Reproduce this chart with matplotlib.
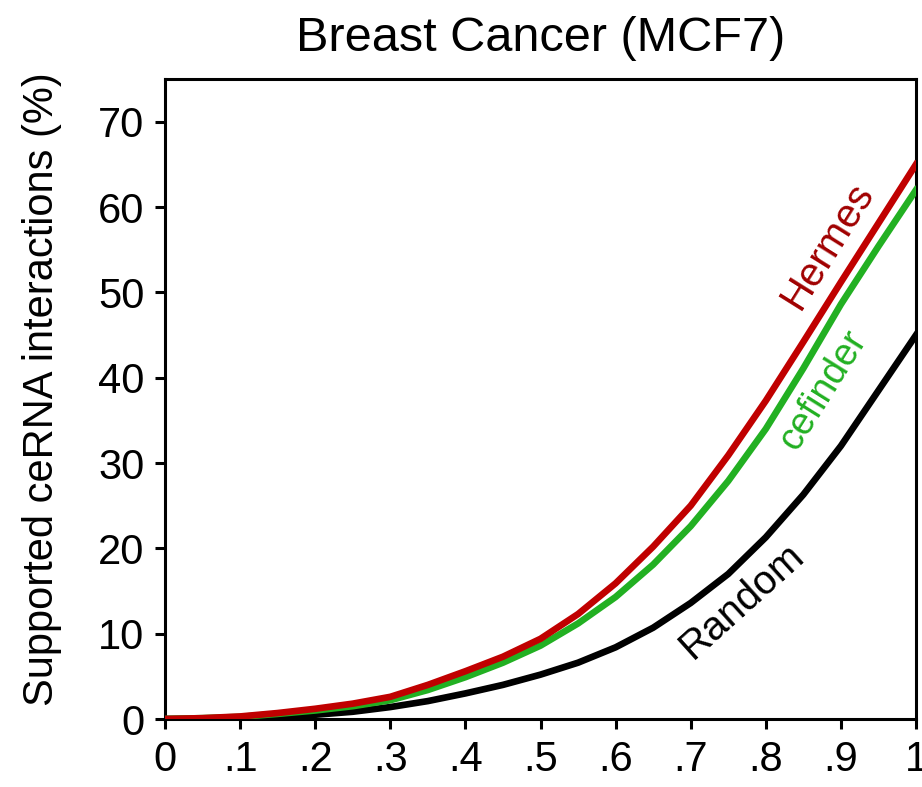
import numpy as np
import matplotlib
matplotlib.use("Agg")
import matplotlib.pyplot as plt

plt.rcParams['font.family'] = ['Liberation Sans', 'DejaVu Sans']

# fraction of ranked interactions (x) vs supported ceRNA interactions (%)
frac = [0, .05, .1, .15, .2, .25, .3, .35, .4, .45, .5,
        .55, .6, .65, .7, .75, .8, .85, .9, .95, 1.0]
hermes = [0, 0.1, 0.3, 0.7, 1.2, 1.8, 2.6, 4.0, 5.6, 7.3, 9.4,
          12.3, 15.9, 20.2, 25.0, 30.9, 37.3, 44.2, 51.2, 58.1, 65.0]
cefinder = [0, 0.1, 0.25, 0.6, 1.0, 1.5, 2.2, 3.4, 4.9, 6.6, 8.6,
            11.2, 14.3, 18.1, 22.6, 27.9, 34.0, 41.1, 48.6, 55.4, 62.0]
random_ = [0, 0.02, 0.1, 0.25, 0.5, 0.85, 1.4, 2.1, 3.0, 4.0, 5.2,
           6.6, 8.4, 10.7, 13.6, 17.0, 21.3, 26.3, 32.0, 38.5, 45.0]

xticks = [0, .1, .2, .3, .4, .5, .6, .7, .8, .9, 1]
xticklabels = ['0', '.1', '.2', '.3', '.4', '.5', '.6', '.7', '.8', '.9', '1']
yticks = [0, 10, 20, 30, 40, 50, 60, 70]

fig = plt.figure(figsize=(9.22, 7.87), dpi=100)
ax = fig.add_axes([0.179, 0.0864, 0.8145, 0.8132])

ax.plot(frac, random_, color='black', lw=4.8, solid_joinstyle='round', zorder=3)
ax.plot(frac, cefinder, color='#22B022', lw=4.8, solid_joinstyle='round', zorder=4)
ax.plot(frac, hermes, color='#C00000', lw=4.8, solid_joinstyle='round', zorder=5)

ax.text(0.883, 55.5, 'Hermes', color='#A00000', fontsize=29, rotation=58,
        ha='center', va='center', rotation_mode='anchor')
ax.text(0.877, 38.5, 'cefinder', color='#22B022', fontsize=27, rotation=58,
        ha='center', va='center', rotation_mode='anchor')
ax.text(0.768, 13.8, 'Random', color='black', fontsize=29, rotation=42,
        ha='center', va='center', rotation_mode='anchor')

ax.set_xlim(0, 1)
ax.set_ylim(0, 75)
ax.set_xticks(xticks)
ax.set_xticklabels(xticklabels)
ax.set_yticks(yticks)
ax.tick_params(axis='both', direction='out', length=7, width=2.2, labelsize=30, pad=8)
for s in ax.spines.values():
    s.set_linewidth(2.2)

ax.set_ylabel('Supported ceRNA interactions (%)', fontsize=30)
ax.yaxis.set_label_coords(-0.137, 0.515)
ax.set_title('Breast Cancer (MCF7)', fontsize=35, pad=20)

fig.savefig('out.png', dpi=100)
